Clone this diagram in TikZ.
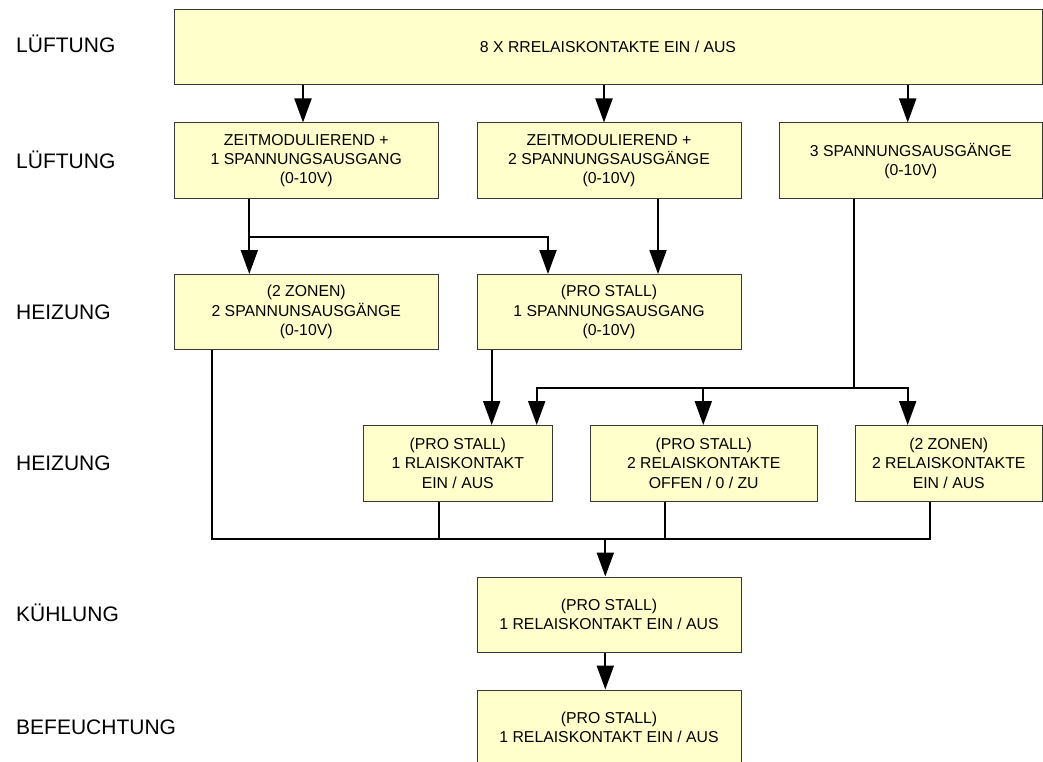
\documentclass[tikz,border=0pt]{standalone}
\usepackage{fontspec}
\setmainfont{Liberation Sans}
\usetikzlibrary{arrows.meta,calc}
\definecolor{boxfill}{RGB}{255,255,204}
\definecolor{boxline}{RGB}{55,55,55}
\begin{document}
\begin{tikzpicture}[x=1pt,y=-1pt,
  box/.style={draw=boxline,fill=boxfill,line width=1pt,inner sep=0pt,align=center,
    font=\fontsize{15.8}{19.3}\selectfont},
  lbl/.style={anchor=base west,inner sep=0pt,font=\fontsize{21}{24}\selectfont},
  conn/.style={line width=2pt,black},
  arr/.style={conn,-{Triangle[length=24pt,width=17pt]}}]
\useasboundingbox (0,0) rectangle (1043,762);

% row labels
\node[lbl] (l1) at (16,53) {LÜFTUNG};
\node[lbl] (l2) at (16,168) {LÜFTUNG};
\node[lbl] (l3) at (16,319) {HEIZUNG};
\node[lbl] (l4) at (16,470) {HEIZUNG};
\node[lbl] (l5) at (16,621) {KÜHLUNG};
\node[lbl] (l6) at (16,734) {BEFEUCHTUNG};

% boxes
\node[box,minimum width=868pt,minimum height=75.5pt] (top) at (608,47.25) {8 X RRELAISKONTAKTE EIN / AUS};
\node[box,minimum width=264.5pt,minimum height=75.5pt] (A) at (306.25,160.75) {ZEITMODULIEREND +\\1 SPANNUNGSAUSGANG\\(0-10V)};
\node[box,minimum width=264pt,minimum height=75.5pt] (B) at (609,160.75) {ZEITMODULIEREND +\\2 SPANNUNGSAUSGÄNGE\\(0-10V)};
\node[box,minimum width=263.5pt,minimum height=75.5pt] (C) at (910.75,160.75) {3 SPANNUNGSAUSGÄNGE\\(0-10V)};
\node[box,minimum width=264.5pt,minimum height=75pt] (D) at (306.25,312) {(2 ZONEN)\\2 SPANNUNSAUSGÄNGE\\(0-10V)};
\node[box,minimum width=264pt,minimum height=75pt] (E) at (609,312) {(PRO STALL)\\1 SPANNUNGSAUSGANG\\(0-10V)};
\node[box,minimum width=188.5pt,minimum height=75.5pt] (F) at (457.75,463.25) {(PRO STALL)\\1 RLAISKONTAKT\\EIN / AUS};
\node[box,minimum width=226.5pt,minimum height=75.5pt] (G) at (703.75,463.25) {(PRO STALL)\\2 RELAISKONTAKTE\\OFFEN / 0 / ZU};
\node[box,minimum width=187.5pt,minimum height=75.5pt] (H) at (948.75,463.25) {(2 ZONEN)\\2 RELAISKONTAKTE\\EIN / AUS};
\node[box,minimum width=264pt,minimum height=75pt] (K) at (609,614.5) {(PRO STALL)\\1 RELAISKONTAKT EIN / AUS};
\node[box,minimum width=264pt,minimum height=74pt] (L) at (609,727) {(PRO STALL)\\1 RELAISKONTAKT EIN / AUS};

% x positions of connectors
\coordinate (xA) at (303,0);
\coordinate (xB) at (604,0);
\coordinate (xC) at (907.7,0);
\coordinate (xAD) at (249.3,0);
\coordinate (xAE) at (548,0);
\coordinate (xBE) at (658,0);
\coordinate (xEF) at (491.7,0);
\coordinate (xCF) at (536.7,0);
\coordinate (xCG) at (703.3,0);
\coordinate (xCH) at (907.7,0);
\coordinate (xD) at (211.7,0);
\coordinate (xF) at (438.7,0);
\coordinate (xG) at (665.3,0);
\coordinate (xH) at (930,0);
\coordinate (j1) at (249.3,236.7);
\coordinate (j2) at (854,387.7);
\coordinate (j3) at (605.3,538.5);

% connectors
\draw[arr] (xA |- top.south) -- (xA |- A.north);
\draw[arr] (xB |- top.south) -- (xB |- B.north);
\draw[arr] (xC |- top.south) -- (xC |- C.north);
\draw[arr] (xAD |- A.south) -- (xAD |- D.north);
\draw[arr] (j1) -| (xAE |- E.north);
\draw[arr] (xBE |- B.south) -- (xBE |- E.north);
\draw[arr] (xEF |- E.south) -- (xEF |- F.north);
\draw[conn] (j2 |- C.south) -- (j2);
\draw[arr] (j2) -| (xCF |- F.north);
\draw[arr] (j2) -| (xCH |- H.north);
\draw[arr] (xCG |- j2) -- (xCG |- G.north);
\draw[conn] (xD |- D.south) |- (j3);
\draw[conn] (xH |- H.south) |- (j3);
\draw[conn] (xF |- F.south) -- (xF |- j3);
\draw[conn] (xG |- G.south) -- (xG |- j3);
\draw[arr] (j3) -- (j3 |- K.north);
\draw[arr] (j3 |- K.south) -- (j3 |- L.north);
\end{tikzpicture}
\end{document}
